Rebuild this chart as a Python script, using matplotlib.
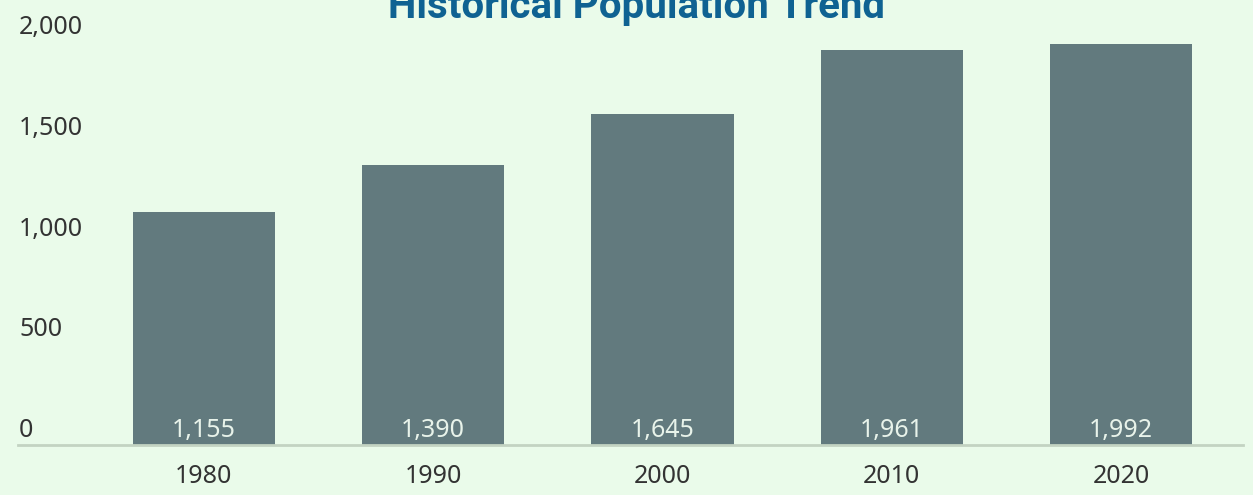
import matplotlib.pyplot as plt
import matplotlib.transforms as mtransforms

years = ['1980', '1990', '2000', '2010', '2020']
population = [1155, 1390, 1645, 1961, 1992]
yticks = [0, 500, 1000, 1500, 2000]

bg = '#eafbea'
bar_color = '#627a7e'

fig = plt.figure(figsize=(12.53, 4.95), dpi=100, facecolor=bg)
ax = fig.add_axes([18 / 1253, 50 / 495, 1225 / 1253, 443 / 495])
ax.set_facecolor(bg)

x = list(range(len(years)))
bars = ax.bar(x, population, width=0.62, color=bar_color, zorder=2)
ax.set_xlim(-0.811, 4.532)
ax.set_ylim(0, 2200)

# value labels at the bottom of bars
for xi, v in zip(x, population):
    ax.text(xi, 0, '{:,}'.format(v), ha='center', va='bottom', color='#e8f3ea',
            fontsize=18, family='Noto Sans', zorder=3,
            transform=ax.transData + mtransforms.ScaledTranslation(0, 2 / 100, fig.dpi_scale_trans))

for s in ['top', 'right', 'left']:
    ax.spines[s].set_visible(False)
ax.spines['bottom'].set_color('#c3d3c2')
ax.spines['bottom'].set_linewidth(2)

ax.set_xticks(x)
ax.set_xticklabels(years, fontsize=18, family='Noto Sans', color='#333333')
ax.tick_params(axis='x', length=0, pad=14)

ax.set_yticks(yticks)
ax.set_yticklabels(['{:,}'.format(t) for t in yticks], fontsize=18, family='Noto Sans', color='#333333')
ax.tick_params(axis='y', length=0, pad=0)
off = mtransforms.ScaledTranslation(1 / 100, 2 / 100, fig.dpi_scale_trans)
for lab in ax.get_yticklabels():
    lab.set_horizontalalignment('left')
    lab.set_verticalalignment('bottom')
    lab.set_transform(lab.get_transform() + off)

fig.text(0.508, 1 - 18 / 495, 'Historical Population Trend', ha='center', va='baseline',
         fontsize=29, fontweight='bold', family='Roboto', color='#0f6292')

fig.savefig('out.png', dpi=100, facecolor=bg)
